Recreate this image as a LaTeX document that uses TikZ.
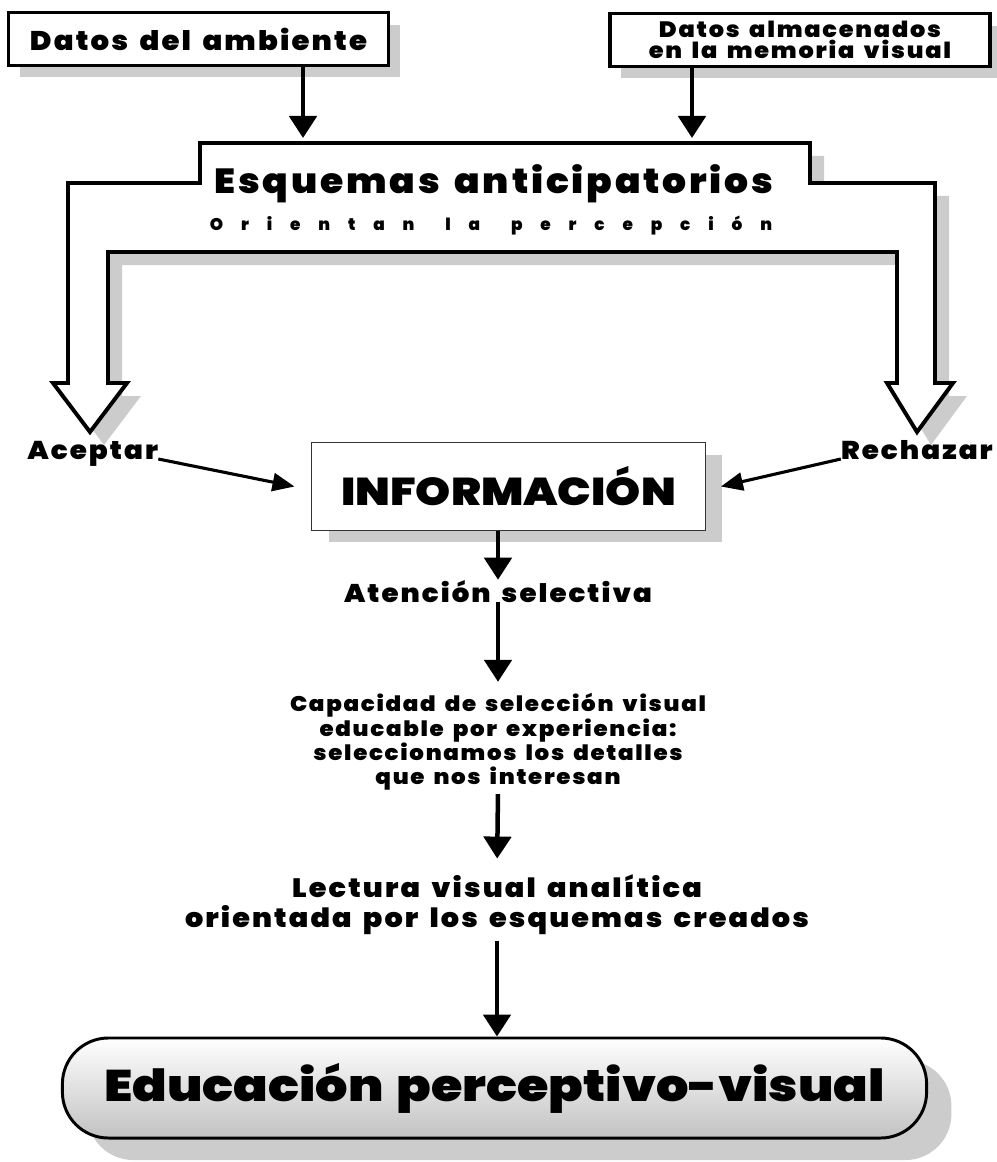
\documentclass[tikz,border=0pt]{standalone}
\usepackage{fontspec}
\newfontfamily\heavyfont{Poppins Black}[FakeStretch=1.08, LetterSpace=8, WordSpace=1.6]
\newfontfamily\capsfont{Poppins Black}[FakeStretch=1.15, WordSpace=1.5]
\newfontfamily\spacedfont{Poppins Black}[LetterSpace=106]
\usetikzlibrary{arrows.meta,shadows}

% outline of the big frame with its two hollow arrows
\newcommand{\frameoutline}{(200,143) -- (810,143) -- (810,183) -- (935,183) -- (935,383) -- (953,383) -- (917,432) -- (887,383) -- (897,383) -- (897,252) -- (108,252) -- (108,383) -- (127,383) -- (90,432) -- (53,383) -- (68,383) -- (68,183) -- (200,183) -- cycle}

\tikzset{
	databox/.style={draw, line width=2.6pt, fill=white, inner sep=0pt,
		minimum width=9.5cm, minimum height=1.32cm,
		drop shadow={shadow xshift=0.28cm, shadow yshift=-0.3cm, fill=black!20, opacity=1}},
	txt/.style={inner sep=0pt, align=center},
	arr/.style={line width=3.2pt, -{Triangle[length=0.55cm, width=0.68cm]}},
	thinarr/.style={line width=2.2pt, -{Triangle[length=0.55cm, width=0.45cm]}}
}

\begin{document}
\begin{tikzpicture}[x=0.025cm, y=-0.025cm]

	\useasboundingbox (0,0) rectangle (997,1162);

	% sources
	\node [databox, font=\heavyfont\fontsize{19.2}{15}\selectfont] (amb) at (198.5,39) {Datos del ambiente};
	\node [databox, font=\heavyfont\fontsize{15.8}{15.2}\selectfont, align=center] (mem) at (800,40) {Datos almacenados\\en la memoria visual};

	\coordinate (in1) at (303,138);
	\coordinate (in2) at (692,138);

	\draw [arr] (amb.south -| in1) -- (in1);
	\draw [arr] (mem.south -| in2) -- (in2);

	% frame
	\fill [black!20, shift={(14,13)}] \frameoutline;
	\draw [line width=2.8pt, fill=white] \frameoutline;

	\node [txt, anchor=base, font=\heavyfont\fontsize{24.8}{24}\selectfont] (esq) at (494,194) {Esquemas anticipatorios};
	\node [txt, anchor=base, font=\spacedfont\fontsize{12}{12}\selectfont] (ori) at (491,231) {Orientan\hspace{0.6em} la\hspace{0.6em} percepción};

	\node [txt, anchor=base west, font=\heavyfont\fontsize{18.3}{18}\selectfont] (acep) at (27,459) {Aceptar};
	\node [txt, anchor=base east, font=\heavyfont\fontsize{18.3}{18}\selectfont] (rech) at (993,459) {Rechazar};

	% information
	\node [draw=black!80, line width=0.8pt, fill=white, minimum width=9.83cm, minimum height=2.18cm,
		drop shadow={shadow xshift=0.42cm, shadow yshift=-0.3cm, fill=black!20, opacity=1},
		font=\capsfont\fontsize{27.6}{27}\selectfont] (info) at (508.5,486.5) {INFORMACIÓN};

	\draw [thinarr] (acep.base east) -- ([xshift=-0.42cm]info.west);
	\draw [thinarr] (rech.base west) -- ([xshift=0.38cm]info.east);

	\node [txt, anchor=base, font=\heavyfont\fontsize{18.2}{18}\selectfont] (aten) at (498,602) {Atención selectiva};
	\node [txt, font=\heavyfont\fontsize{15.1}{17.4}\selectfont] (cap) at (498,742)
		{Capacidad de selección visual\\educable por experiencia:\\seleccionamos los detalles\\que nos interesan};
	\node [txt, font=\heavyfont\fontsize{18.9}{21.5}\selectfont] (lect) at (497,905)
		{Lectura visual analítica\\orientada por los esquemas creados};

	% result
	\node [draw, line width=2.1pt, rounded corners=1.15cm, minimum width=21.6cm, minimum height=2.5cm,
		top color=white, middle color=black!7, bottom color=black!24,
		drop shadow={shadow xshift=0.62cm, shadow yshift=-0.55cm, fill=black!20, opacity=1},
		font=\capsfont\fontsize{31.5}{32}\selectfont] (edu) at (494.5,1088) {Educación perceptivo-visual};

	\draw [arr] (info.south -| aten.north) -- (aten.north);
	\draw [arr, shorten >=0.28cm] (aten.south) -- (cap.north);
	\draw [arr, shorten <=0.08cm, shorten >=0.4cm] (cap.south) -- (lect.north);
	\draw [arr, shorten <=0.15cm] (lect.south) -- (lect.south |- edu.north);

\end{tikzpicture}
\end{document}
